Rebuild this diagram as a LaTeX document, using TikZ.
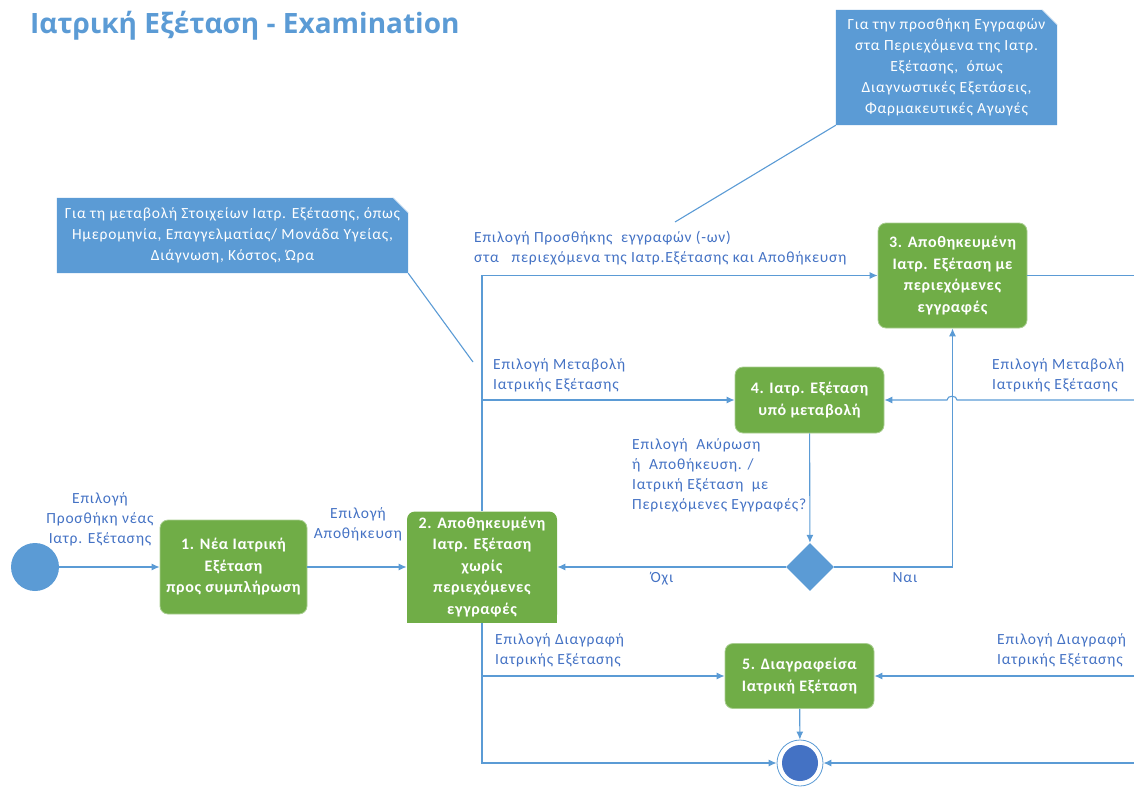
\documentclass[tikz,border=0pt]{standalone}
\usepackage{fontspec}
\setmainfont{Carlito}
\newfontfamily\titlefont{Open Sans}
\newfontfamily\lblfont{Carlito}[LetterSpace=5]
\newfontfamily\statefont{Carlito}[LetterSpace=4]
\usepackage{tikz}
\usetikzlibrary{arrows.meta,positioning,shapes.geometric,backgrounds}
\definecolor{noteblue}{RGB}{91,155,213}
\definecolor{stategreen}{RGB}{112,173,71}
\definecolor{labelblue}{RGB}{68,114,196}
\definecolor{endblue}{RGB}{68,114,196}

\begin{document}
\begin{tikzpicture}[x=1pt,y=-1pt,
  s/.style={fill=stategreen,draw=stategreen!60!white,line width=0.8pt,rounded corners=8pt,align=center,text=white,font=\statefont\fontsize{16}{21.5}\selectfont\bfseries,inner sep=0pt},
  lbl/.style={text=labelblue,align=left,font=\lblfont\fontsize{15.5}{20}\selectfont,inner sep=0pt},
  note/.style={text=white,align=center,font=\lblfont\fontsize{15.5}{21}\selectfont,inner sep=0pt},
  a/.style={-{Latex[length=8pt,width=7pt]},draw=noteblue,line width=1.1pt},
  l/.style={draw=noteblue,line width=1.1pt}]
\useasboundingbox (0,0) rectangle (1134,787);
\node[anchor=base west,font=\titlefont\fontsize{28}{32}\selectfont\bfseries,text=noteblue,inner sep=0pt] (title) at (30,33) {Ιατρική Εξέταση - Examination};

% notes
\node[note,minimum width=221pt,minimum height=115pt] (addnote) at (946.5,67.5) {Για την προσθήκη Εγγραφών\\στα Περιεχόμενα της Ιατρ.\\Εξέτασης, \ όπως\\Διαγνωστικές Εξετάσεις,\\Φαρμακευτικές Αγωγές};
\node[note,minimum width=351pt,minimum height=75pt] (editnote) at (232.5,235.5) {Για τη μεταβολή Στοιχείων Ιατρ. Εξέτασης, όπως\\Ημερομηνία, Επαγγελματίας/ Μονάδα Υγείας,\\Διάγνωση, Κόστος, Ώρα};
\begin{scope}[on background layer]
\foreach \nn in {addnote,editnote}{
  \fill[noteblue] (\nn.south west) -- (\nn.north west) -- ([xshift=-15pt]\nn.north east) -- ([yshift=-15pt]\nn.north east) -- (\nn.south east) -- cycle;
  \draw[noteblue!35!white,line width=0.6pt] ([xshift=-15pt]\nn.north east) -- ([yshift=-15pt]\nn.north east);
}
\end{scope}

% states
\node[s,minimum width=147pt,minimum height=94pt] (new) at (233.5,567) {1. Νέα Ιατρική\\Εξέταση\\προς συμπλήρωση};
\node[s,minimum width=150pt,minimum height=111pt,draw=none] (saved) at (482,567) {2. Αποθηκευμένη\\Ιατρ. Εξέταση\\χωρίς\\περιεχόμενες\\εγγραφές};
\node[s,minimum width=149pt,minimum height=105pt] (full) at (952.5,275.5) {3. Αποθηκευμένη\\Ιατρ. Εξέταση με\\περιεχόμενες\\εγγραφές};
\node[s,minimum width=149pt,minimum height=66pt] (edit) at (809.5,400) {4. Ιατρ. Εξέταση\\υπό μεταβολή};
\node[s,minimum width=149pt,minimum height=65pt] (deleted) at (799.5,676) {5. Διαγραφείσα\\Ιατρική Εξέταση};
\node[circle,fill=noteblue,minimum size=48pt,inner sep=0pt] (init) at (35,567) {};
\node[diamond,fill=noteblue,minimum size=48pt,inner sep=0pt] (check) at (810,567) {};
\node[circle,draw=noteblue,fill=white,line width=0.8pt,minimum size=46pt,inner sep=0pt] (final) at (800,763) {};
\fill[endblue] (final.center) circle[radius=18pt];
\begin{scope}[on background layer]
\fill[stategreen] ([yshift=12pt]saved.south west) rectangle (saved.south east);
\end{scope}

% free ends
\coordinate (rim3) at (1134,275.5);
\coordinate (rim4) at (1134,400);
\coordinate (rim5) at (1134,676);
\coordinate (rim6) at (1134,763);
\coordinate (tip1) at (675,222);
\coordinate (tip2) at (473,362);

% connectors
\draw[a] (init) -- (new);
\draw[a] (new) -- (saved);
\draw[a] (saved.north) |- (full.west);
\draw[a] (saved.north) |- (edit.west);
\draw[a] (saved.south) |- (deleted.west);
\draw[a] (saved.south) |- (final.west);
\draw[a] (edit) -- (check);
\draw[a] (check) -- (saved);
\draw[a] (check.east) -| (full.south);
\draw[l] (full.east) -- (rim3);
\draw[a] (rim4) -- (957,400) .. controls (957,395) and (947,395) .. (947,400) -- (edit.east);
\draw[a] (rim5) -- (deleted.east);
\draw[a] (rim6) -- (final.east);
\draw[a] (deleted) -- (final);
\draw[l] (addnote.south west) -- (tip1);
\draw[l] (editnote.south east) -- (tip2);

% labels (base = last line)
\node[lbl,align=center,anchor=base] (startlbl) at (100,543) {Επιλογή\\Προσθήκη νέας\\Ιατρ. Εξέτασης};
\node[lbl,align=center,anchor=base] (savelbl) at (358,538) {Επιλογή\\Αποθήκευση};
\node[lbl,anchor=base west] (addlbl) at (474,262) {Επιλογή Προσθήκης \ εγγραφών (-ων)\\στα \ \ περιεχόμενα της Ιατρ.Εξέτασης και Αποθήκευση};
\node[lbl,anchor=base west] (editlbl) at (493,389) {Επιλογή Μεταβολή\\Ιατρικής Εξέτασης};
\node[lbl,anchor=base west] (editlblr) at (992,389) {Επιλογή Μεταβολή\\Ιατρικής Εξέτασης};
\node[lbl,anchor=base west] (checklbl) at (632,509) {Επιλογή \ Ακύρωση\\ή \ Αποθήκευση. /\\Ιατρική Εξέταση \ με\\Περιεχόμενες Εγγραφές?};
\node[lbl,anchor=base] (nolbl) at (662,582) {Όχι};
\node[lbl,anchor=base] (yeslbl) at (905,582) {Ναι};
\node[lbl,anchor=base west] (dellbl) at (495,664) {Επιλογή Διαγραφή\\Ιατρικής Εξέτασης};
\node[lbl,anchor=base west] (dellblr) at (997,664) {Επιλογή Διαγραφή\\Ιατρικής Εξέτασης};
\end{tikzpicture}
\end{document}
